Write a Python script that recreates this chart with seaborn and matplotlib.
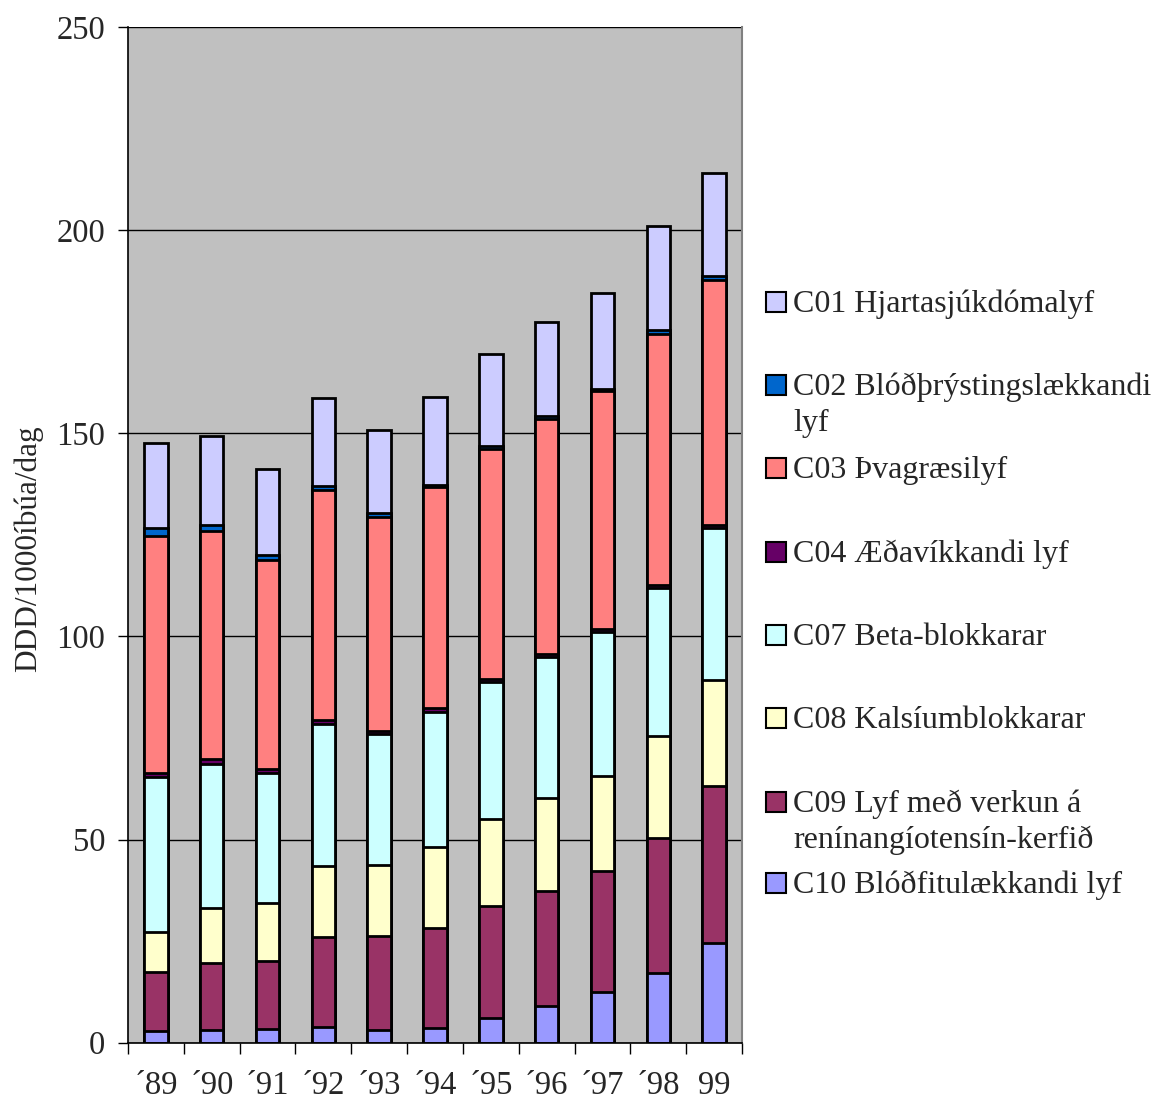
import numpy as np
import pandas as pd
import matplotlib
matplotlib.use('Agg')
import matplotlib.pyplot as plt
import seaborn as sns
from matplotlib.patches import Rectangle

# Gögn (DDD/1000 íbúa/dag)
years = ['´89', '´90', '´91', '´92', '´93', '´94', '´95', '´96', '´97', '´98', '99']

c01 = [20.9, 22.0, 21.0, 21.8, 20.5, 21.6, 22.8, 23.1, 23.6, 25.6, 25.4]
c02 = [1.9, 1.4, 1.4, 1.0, 0.9, 0.5, 0.6, 0.7, 0.7, 0.8, 1.0]
c03 = [58.5, 56.2, 51.4, 56.5, 52.7, 54.4, 56.6, 57.8, 58.5, 61.8, 60.3]
c04 = [0.9, 1.2, 1.0, 1.0, 0.8, 0.9, 0.7, 0.7, 0.7, 0.7, 0.6]
c07 = [38.2, 35.4, 31.8, 35.0, 32.2, 33.3, 33.9, 34.7, 35.4, 36.4, 37.5]
c08 = [9.9, 13.5, 14.4, 17.4, 17.5, 19.9, 21.3, 22.9, 23.4, 25.3, 26.0]
c09 = [14.3, 16.5, 16.7, 22.2, 23.2, 24.6, 27.5, 28.3, 29.7, 33.1, 38.7]
c10 = [3.0, 3.2, 3.4, 3.9, 3.1, 3.7, 6.2, 9.1, 12.6, 17.2, 24.6]

labels = ['C01 Hjartasjúkdómalyf',
          'C02 Blóðþrýstingslækkandi\nlyf',
          'C03 Þvagræsilyf',
          'C04 Æðavíkkandi lyf',
          'C07 Beta-blokkarar',
          'C08 Kalsíumblokkarar',
          'C09 Lyf með verkun á\nrenínangíotensín-kerfið',
          'C10 Blóðfitulækkandi lyf']
colors = ['#CCCCFF', '#0066CC', '#FF8080', '#660066',
          '#CCFFFF', '#FFFFCC', '#993366', '#9999FF']

# röð ofan frá og niður
df = pd.DataFrame(dict(zip(labels, [c01, c02, c03, c04, c07, c08, c09, c10])), index=years)
cum = df[labels[::-1]].cumsum(axis=1)

sns.set_style('ticks')
plt.rcParams['font.family'] = ['Liberation Serif', 'DejaVu Serif']

W, H = 1154, 1104
fig = plt.figure(figsize=(W / 100, H / 100), dpi=100)
ax = fig.add_axes([128 / W, 1 - 1042.7 / H, (742 - 128) / W, (1042.7 - 27) / H])
ax.set_facecolor('#C0C0C0')

# hæstu súlurnar fyrst, hinar ofan á
for lab, col in zip(labels, colors):
    sns.barplot(x=years, y=cum[lab].values, order=years, color=col, saturation=1,
                width=0.42, edgecolor='black', linewidth=2.0, errorbar=None, ax=ax)

ax.set_xlim(-0.5, len(years) - 0.5)
ax.set_ylim(0, 250)
ax.set_yticks(np.arange(0, 251, 50))
ax.yaxis.grid(True, color='black', linewidth=1.0)
ax.set_axisbelow(True)

ax.set_xticks(np.arange(-0.5, len(years), 1))
ax.set_xticklabels([])
ax.set_xticks(np.arange(len(years)), minor=True)
ax.set_xticklabels(years, minor=True)
ax.tick_params(axis='x', which='major', direction='out', length=8, width=1, color='black')
ax.tick_params(axis='x', which='minor', length=0, pad=20, labelsize=23.5)
ax.tick_params(axis='y', direction='out', length=7.5, width=1, color='black', pad=9, labelsize=23.5)
ax.set_xlabel('')
ax.set_ylabel('')

for s in ['left', 'bottom']:
    ax.spines[s].set_color('black')
    ax.spines[s].set_linewidth(1.2)
for s in ['top', 'right']:
    ax.spines[s].set_color('#808080')
    ax.spines[s].set_linewidth(1.5)
ax.spines['top'].set_visible(False)

fig.text(28 / W, 1 - 549 / H, 'DDD/1000íbúa/dag', rotation=90, ha='center', va='center', fontsize=22.5)

# skýringar
legend_y_px = [302, 385, 468, 552, 635, 718, 802, 883]
for lab, col, yc in zip(labels, colors, legend_y_px):
    fig.add_artist(Rectangle((766 / W, 1 - (yc + 10) / H), 20 / W, 20 / H,
                             transform=fig.transFigure, facecolor=col,
                             edgecolor='black', linewidth=1.5))
    for j, line in enumerate(lab.split('\n')):
        fig.text(793 / W, 1 - (yc + 10 + j * 36) / H, line, ha='left', va='baseline', fontsize=23)

fig.savefig('out.png', dpi=100, facecolor='white')
